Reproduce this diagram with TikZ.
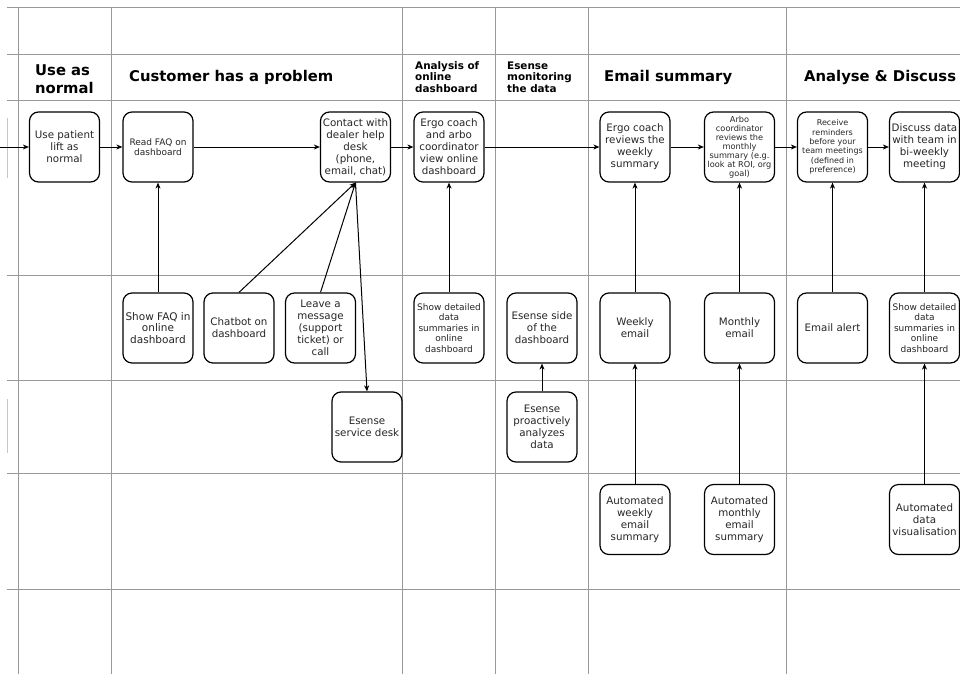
\documentclass[tikz,border=0pt]{standalone}
\usepackage{fontspec}
\setmainfont{DejaVu Sans}
\usetikzlibrary{arrows.meta}
\begin{document}
\begin{tikzpicture}[x=1pt,y=-1pt,
  box/.style={draw=black, line width=1.2pt, rounded corners=9pt, minimum width=70pt, minimum height=70pt, align=center, inner sep=1pt, font=\fontsize{10.3}{12}\selectfont, text=black!85},
  smallbox/.style={box, font=\fontsize{9}{10.5}\selectfont},
  tinybox/.style={box, font=\fontsize{8.2}{9}\selectfont},
  gridline/.style={draw=black!40, line width=0.9pt},
  faint/.style={draw=black!22, line width=0.8pt},
  conn/.style={draw=black, line width=1pt, -{Stealth[length=6pt,width=5pt,inset=1.8pt]}},
  bighead/.style={font=\bfseries\fontsize{14.8}{18}\selectfont, anchor=west, align=left, inner sep=0pt},
  smallhead/.style={font=\bfseries\fontsize{10.4}{11.5}\selectfont, anchor=west, align=left, inner sep=0pt},
]
\fill[white] (0,0) rectangle (960,674);
\useasboundingbox (0,0) rectangle (960,674);

% grid
\foreach \yy in {7,54,100,275,380,473,589} \draw[gridline] (7,\yy) -- (960,\yy);
\foreach \xx in {18,111,402,495,588,786} \draw[gridline] (\xx,7) -- (\xx,674);
\draw[faint] (7,118) -- (7,178);
\draw[faint] (7,399) -- (7,453);

% headers
\node[bighead] (h1) at (35,79) {Use as\\normal};
\node[bighead] (h2) at (129,77) {Customer has a problem};
\node[smallhead] (h3) at (415,77) {Analysis of\\online\\dashboard};
\node[smallhead] (h4) at (507,77) {Esense\\monitoring\\the data};
\node[bighead] (h5) at (604,77) {Email summary};
\node[bighead] (h6) at (804,77) {Analyse \& Discuss};

% row 1
\node[box] (use) at (64.5,147) {Use patient\\lift as\\normal};
\node[smallbox] (readfaq) at (158,147) {Read FAQ on\\dashboard};
\node[box] (contact) at (355.5,147) {Contact with\\dealer help\\desk\\(phone,\\email, chat)};
\node[box] (ergoview) at (449,147) {Ergo coach\\and arbo\\coordinator\\view online\\dashboard};
\node[box] (ergorev) at (635,147) {Ergo coach\\reviews the\\weekly\\summary};
\node[tinybox] (arbo) at (739.5,147) {Arbo\\coordinator\\reviews the\\monthly\\summary (e.g.\\look at ROI, org\\goal)};
\node[box, font=\fontsize{8}{9.4}\selectfont] (receive) at (832.5,147) {Receive\\reminders\\before your\\team meetings\\(defined in\\preference)};
\node[box] (discuss) at (924.5,147) {Discuss data\\with team in\\bi-weekly\\meeting};

% row 2
\node[box, font=\fontsize{10.5}{11.7}\selectfont] (showfaq) at (158,328) {Show FAQ in\\online\\dashboard};
\node[box] (chatbot) at (239,328) {Chatbot on\\dashboard};
\node[box] (leave) at (320.5,328) {Leave a\\message\\(support\\ticket) or\\call};
\node[smallbox] (showdet1) at (449,328) {Show detailed\\data\\summaries in\\online\\dashboard};
\node[box] (esside) at (542,328) {Esense side\\of the\\dashboard};
\node[box] (weekly) at (635,328) {Weekly\\email};
\node[box] (monthly) at (739.5,328) {Monthly\\email};
\node[box] (alert) at (832.5,328) {Email alert};
\node[smallbox] (showdet2) at (924.5,328) {Show detailed\\data\\summaries in\\online\\dashboard};

% row 3
\node[box] (service) at (367,427) {Esense\\service desk};
\node[box] (proactive) at (542,427) {Esense\\proactively\\analyzes\\data};

% row 4
\node[box] (autoweekly) at (635,519.5) {Automated\\weekly\\email\\summary};
\node[box] (automonthly) at (739.5,519.5) {Automated\\monthly\\email\\summary};
\node[box] (autovis) at (924.5,519.5) {Automated\\data\\visualisation};

% connectors
\coordinate (in) at (0,147);
\draw[conn] (in) -- (use);
\draw[conn] (use) -- (readfaq);
\draw[conn] (readfaq) -- (contact);
\draw[conn] (contact) -- (ergoview);
\draw[conn] (ergoview) -- (ergorev);
\draw[conn] (ergorev) -- (arbo);
\draw[conn] (arbo) -- (receive);
\draw[conn] (receive) -- (discuss);

\draw[conn] (showfaq) -- (readfaq);
\draw[conn] (chatbot.north) -- (contact.south);
\draw[conn] (leave.north) -- (contact.south);
\draw[conn] (contact.south) -- (service.north);
\draw[conn] (showdet1) -- (ergoview);
\draw[conn] (proactive) -- (esside);
\draw[conn] (weekly) -- (ergorev);
\draw[conn] (autoweekly) -- (weekly);
\draw[conn] (monthly) -- (arbo);
\draw[conn] (automonthly) -- (monthly);
\draw[conn] (alert) -- (receive);
\draw[conn] (showdet2) -- (discuss);
\draw[conn] (autovis) -- (showdet2);
\end{tikzpicture}
\end{document}
